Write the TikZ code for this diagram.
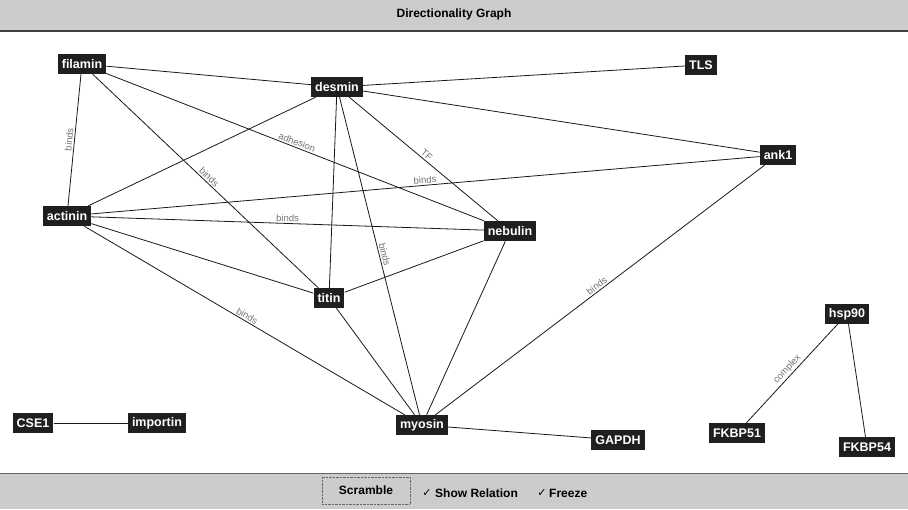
\documentclass[tikz,border=0pt]{standalone}
\usepackage{fontspec}
\setmainfont{Liberation Sans}
\newfontfamily\symfont{DejaVu Sans}
\pgfdeclarelayer{backdrop}
\pgfdeclarelayer{edges}
\pgfsetlayers{backdrop,edges,main}
\begin{document}
\begin{tikzpicture}[x=1pt,y=-1pt,
  protein/.style={fill=black!88, text=white, font=\bfseries\fontsize{12.5}{14}\selectfont,
    inner xsep=4pt, inner ysep=0pt, minimum height=20pt},
  link/.style={draw=black!90, line width=0.8pt},
  rel/.style={midway, sloped, above, inner sep=1.5pt, text=black!55,
    font=\fontsize{9.5}{11}\selectfont},
  barfont/.style={font=\bfseries\fontsize{12}{14}\selectfont}
]
\useasboundingbox (0,0) rectangle (908,509);
\begin{pgfonlayer}{backdrop}
\fill[white] (0,0) rectangle (908,509);
% title bar
\fill[black!20] (0,0) rectangle (908,31);
\draw[black!75, line width=1.5pt] (0,31) -- (908,31);
% control bar
\fill[black!20] (0,474) rectangle (908,509);
\draw[black!60, line width=1pt] (0,473.5) -- (908,473.5);
\end{pgfonlayer}

\node[barfont] (title) at (454,14) {Directionality Graph};
\node[barfont, draw=black!60, densely dotted, minimum width=88pt, minimum height=27pt]
  (scramble) at (366,490.5) {Scramble};
\node[font=\symfont\bfseries\fontsize{11}{12}\selectfont, inner sep=0pt] (chk1) at (427,493) {✓};
\node[barfont, anchor=west, inner sep=0pt] (showrel) at (435,493) {Show Relation};
\node[font=\symfont\bfseries\fontsize{11}{12}\selectfont, inner sep=0pt] (chk2) at (542,493) {✓};
\node[barfont, anchor=west, inner sep=0pt] (freeze) at (549,493) {Freeze};

% proteins
\node[protein] (filamin)  at (82,64)   {filamin};
\node[protein] (desmin)   at (337,87)  {desmin};
\node[protein] (TLS)      at (701,65)  {TLS};
\node[protein] (ank1)     at (778,155) {ank1};
\node[protein] (actinin)  at (67,216)  {actinin};
\node[protein] (nebulin)  at (510,231) {nebulin};
\node[protein] (titin)    at (329,298) {titin};
\node[protein] (myosin)   at (422,425) {myosin};
\node[protein] (GAPDH)    at (618,440) {GAPDH};
\node[protein] (CSE1)     at (33,423)  {CSE1};
\node[protein] (importin) at (157,423) {importin};
\node[protein] (hsp90)    at (847,314) {hsp90};
\node[protein] (FKBP51)   at (737,433) {FKBP51};
\node[protein] (FKBP54)   at (867,447) {FKBP54};

% relations
\begin{pgfonlayer}{edges}
\draw[link] (filamin) -- (desmin);
\draw[link] (filamin) -- node[rel] {binds} (actinin);
\draw[link] (filamin) -- node[rel] {binds} (titin);
\draw[link] (filamin) -- node[rel] {adhesion} (nebulin);
\draw[link] (desmin) -- (TLS);
\draw[link] (desmin) -- (ank1);
\draw[link] (desmin) -- (actinin);
\draw[link] (desmin) -- (titin);
\draw[link] (desmin) -- node[rel] {binds} (myosin);
\draw[link] (desmin) -- node[rel] {TF} (nebulin);
\draw[link] (actinin) -- node[rel] {binds} (ank1);
\draw[link] (actinin) -- node[rel] {binds} (nebulin);
\draw[link] (actinin) -- (titin);
\draw[link] (actinin) -- node[rel] {binds} (myosin);
\draw[link] (titin) -- (nebulin);
\draw[link] (titin) -- (myosin);
\draw[link] (nebulin) -- (myosin);
\draw[link] (ank1) -- node[rel] {binds} (myosin);
\draw[link] (myosin) -- (GAPDH);
\draw[link] (CSE1) -- (importin);
\draw[link] (hsp90) -- node[rel] {complex} (FKBP51);
\draw[link] (hsp90) -- (FKBP54);
\end{pgfonlayer}
\end{tikzpicture}
\end{document}
